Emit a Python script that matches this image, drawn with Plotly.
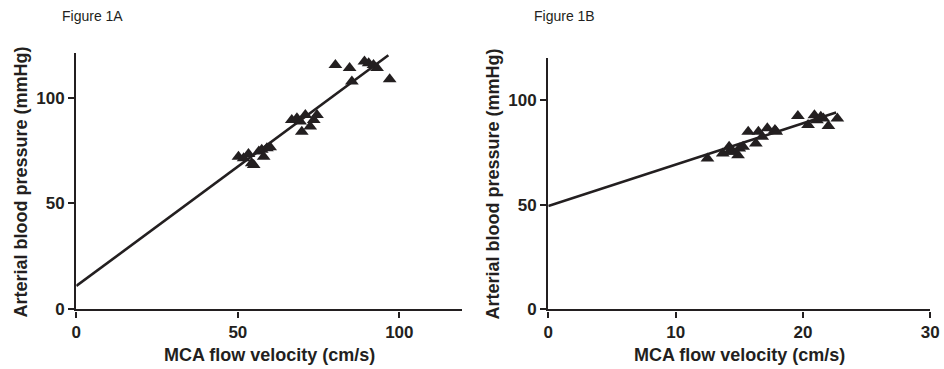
import plotly.graph_objects as go

# ---------------- data ----------------
a_mca = [50.2, 53.3, 51.8, 54.9, 56.5, 58.0, 59.0, 57.4, 60.0, 54.3,
         66.7, 68.3, 69.3, 69.8, 70.9, 72.4, 73.5, 74.5,
         80.2, 84.6, 85.3, 89.2, 90.5, 92.0, 93.1, 97.0]
a_abp = [72.1, 73.4, 71.3, 68.2, 74.5, 72.1, 76.1, 75.3, 76.5, 69.0,
         89.4, 90.2, 88.7, 83.9, 91.8, 86.3, 89.4, 91.8,
         115.4, 113.9, 107.6, 117.0, 116.2, 115.4, 113.9, 108.7]
a_fit_x = [0, 96.6]
a_fit_y = [11.0, 120.0]

b_mca = [12.5, 13.7, 14.2, 14.2, 14.5, 14.9, 15.0, 15.3, 15.7, 16.3,
         16.5, 16.8, 17.2, 17.8, 17.9, 19.6, 20.4, 20.9, 21.1, 21.4,
         21.6, 22.0, 22.7]
b_abp = [72.1, 74.5, 77.7, 75.3, 75.3, 73.7, 76.9, 77.7, 84.9, 79.3,
         84.9, 82.5, 86.5, 85.7, 84.9, 92.4, 88.1, 92.8, 90.4, 92.0,
         91.2, 87.6, 91.2]
b_fit_x = [0, 22.6]
b_fit_y = [49.4, 94.1]

a_xticks = [0, 50, 100]
b_xticks = [0, 10, 20, 30]
yticks = [0, 50, 100]

panel_labels = ["Figure 1A", "Figure 1B"]
x_title = "MCA flow velocity (cm/s)"
y_title = "Arterial blood pressure (mmHg)"

# ---------------- figure ----------------
W, H = 944, 369
INK = "#231f20"
FONT = "Liberation Sans, Arial, sans-serif"

def fx(px):
    return px / W

def fy(py):
    return (H - py) / H

fig = go.Figure()

mk = dict(symbol="triangle-up", size=12, color=INK, line=dict(width=0))
fig.add_trace(go.Scatter(x=a_mca, y=a_abp, mode="markers", marker=mk,
                         xaxis="x", yaxis="y", showlegend=False))
fig.add_trace(go.Scatter(x=a_fit_x, y=a_fit_y, mode="lines",
                         line=dict(color=INK, width=2.6),
                         xaxis="x", yaxis="y", showlegend=False))
fig.add_trace(go.Scatter(x=b_mca, y=b_abp, mode="markers", marker=mk,
                         xaxis="x2", yaxis="y2", showlegend=False))
fig.add_trace(go.Scatter(x=b_fit_x, y=b_fit_y, mode="lines",
                         line=dict(color=INK, width=2.6),
                         xaxis="x2", yaxis="y2", showlegend=False))

axis_common = dict(showgrid=False, zeroline=False, showline=True,
                   automargin=False,
                   linecolor=INK, linewidth=2.4, ticks="outside",
                   ticklen=6, tickwidth=2, tickcolor=INK,
                   tickfont=dict(family=FONT, size=17, color=INK,
                                 weight="bold"),
                   fixedrange=True)

fig.update_layout(
    width=W, height=H,
    margin=dict(l=0, r=0, t=0, b=0),
    paper_bgcolor="white", plot_bgcolor="white",
    xaxis=dict(domain=[fx(76.3), fx(461.7)], range=[0, 119.3],
               tickvals=a_xticks, anchor="y", **axis_common),
    yaxis=dict(domain=[fy(309.3), fy(53.3)], range=[0, 120.9],
               tickvals=yticks, anchor="x", **axis_common),
    xaxis2=dict(domain=[fx(548.3), fx(930.3)], range=[0, 30],
                tickvals=b_xticks, anchor="y2", **axis_common),
    yaxis2=dict(domain=[fy(309.3), fy(58.3)], range=[0, 120],
                tickvals=yticks, anchor="x2", **axis_common),
)

tfont = dict(family=FONT, size=18, color=INK, weight="bold")
annos = []
# x titles
for cx in (269, 739):
    annos.append(dict(text=x_title, x=fx(cx), y=fy(355),
                      xref="paper", yref="paper", xanchor="center",
                      yanchor="middle", showarrow=False, font=tfont))
# y titles
for cx, cy in ((20, 182.5), (492, 184.5)):
    annos.append(dict(text=y_title, x=fx(cx), y=fy(cy),
                      xref="paper", yref="paper", xanchor="center",
                      yanchor="middle", textangle=-90, showarrow=False,
                      font=tfont))
# panel labels
for lbl, lx in zip(panel_labels, (60, 532)):
    annos.append(dict(text=lbl, x=fx(lx), y=fy(16),
                      xref="paper", yref="paper", xanchor="left",
                      yanchor="middle", showarrow=False,
                      font=dict(family=FONT, size=14, color=INK)))
fig.update_layout(annotations=annos)

fig.write_html("out.html")
